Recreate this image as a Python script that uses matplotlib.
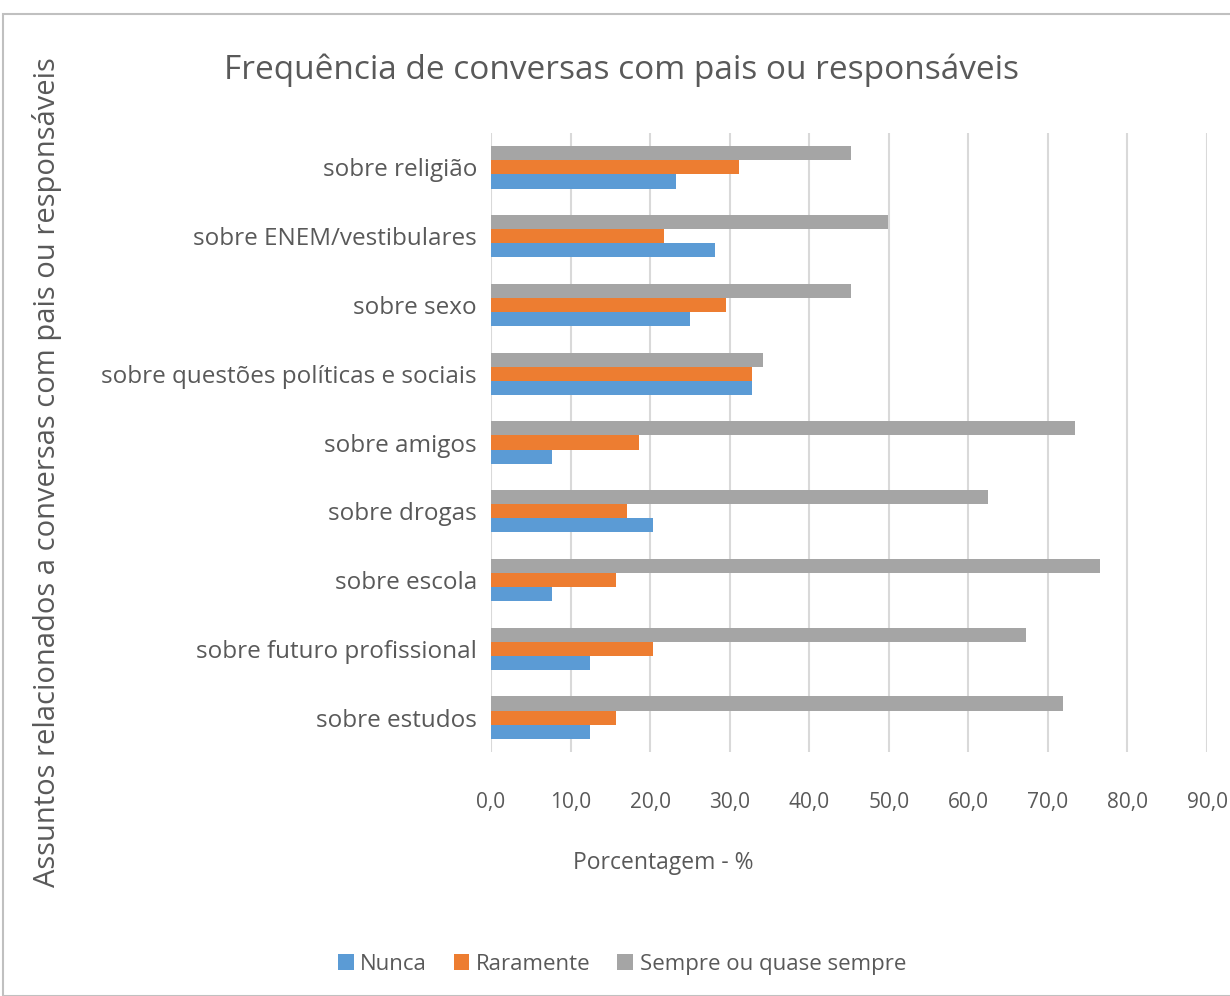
import matplotlib.pyplot as plt
import numpy as np
from matplotlib.patches import Rectangle

# data (bottom to top, as drawn)
categorias = ["sobre estudos", "sobre futuro profissional", "sobre escola",
              "sobre drogas", "sobre amigos", "sobre questões políticas e sociais",
              "sobre sexo", "sobre ENEM/vestibulares", "sobre religião"]
nunca = [12.4, 12.4, 7.7, 20.4, 7.7, 32.8, 25.0, 28.1, 23.3]
raramente = [15.7, 20.4, 15.7, 17.1, 18.6, 32.8, 29.5, 21.8, 31.2]
sempre = [71.9, 67.2, 76.6, 62.5, 73.4, 34.2, 45.2, 49.9, 45.2]
series_nomes = ["Nunca", "Raramente", "Sempre ou quase sempre"]
ticks_x = np.arange(0, 100, 10)

cores = ["#5b9bd5", "#ed7d31", "#a5a5a5"]
txt = "#595959"
plt.rcParams['font.family'] = ['Open Sans', 'DejaVu Sans']

fig = plt.figure(figsize=(12.3, 9.96), dpi=100)
ax = fig.add_axes([491 / 1230, 1 - 752 / 996, (1207 - 491) / 1230, (752 - 133) / 996])

y = np.arange(len(categorias))
h = 0.205
for k, vals in enumerate([nunca, raramente, sempre]):
    ax.barh(y + (k - 1) * h, vals, height=h, color=cores[k], label=series_nomes[k], zorder=3)

ax.set_xlim(0, 90)
ax.set_ylim(-0.5, len(categorias) - 0.5)
ax.set_xticks(ticks_x)
ax.set_xticklabels(["{:.1f}".format(v).replace(".", ",") for v in ticks_x], fontsize=15, color=txt)
ax.set_yticks(y)
ax.set_yticklabels(categorias, fontsize=17.5, color=txt)
ax.tick_params(axis='x', length=0, pad=29)
ax.tick_params(axis='y', length=0, pad=10)
ax.grid(axis='x', color="#d9d9d9", lw=1.5, zorder=0)
for s in ax.spines.values():
    s.set_visible(False)

fig.text(622 / 1230, 1 - 70 / 996, "Frequência de conversas com pais ou responsáveis",
         ha='center', va='center', fontsize=24, color=txt)
fig.text(663 / 1230, 1 - 863 / 996, "Porcentagem - %", ha='center', va='center',
         fontsize=16.5, color=txt)
fig.text(47 / 1230, 1 - 472 / 996, "Assuntos relacionados a conversas com pais ou responsáveis",
         ha='center', va='center', rotation=90, fontsize=21, color=txt)

fig.legend(loc='center', bbox_to_anchor=(622 / 1230, 1 - 964 / 996), ncol=3, frameon=False,
           fontsize=16, labelcolor=txt, handlelength=0.7, handleheight=0.7,
           handletextpad=0.3, columnspacing=1.2)

fig.patches.append(Rectangle((3 / 1230, 0), 1.0, 1 - 14 / 996, transform=fig.transFigure,
                             fill=False, edgecolor="#c0c0c0", lw=1.5))

fig.savefig("out.png", dpi=100, facecolor="white")
